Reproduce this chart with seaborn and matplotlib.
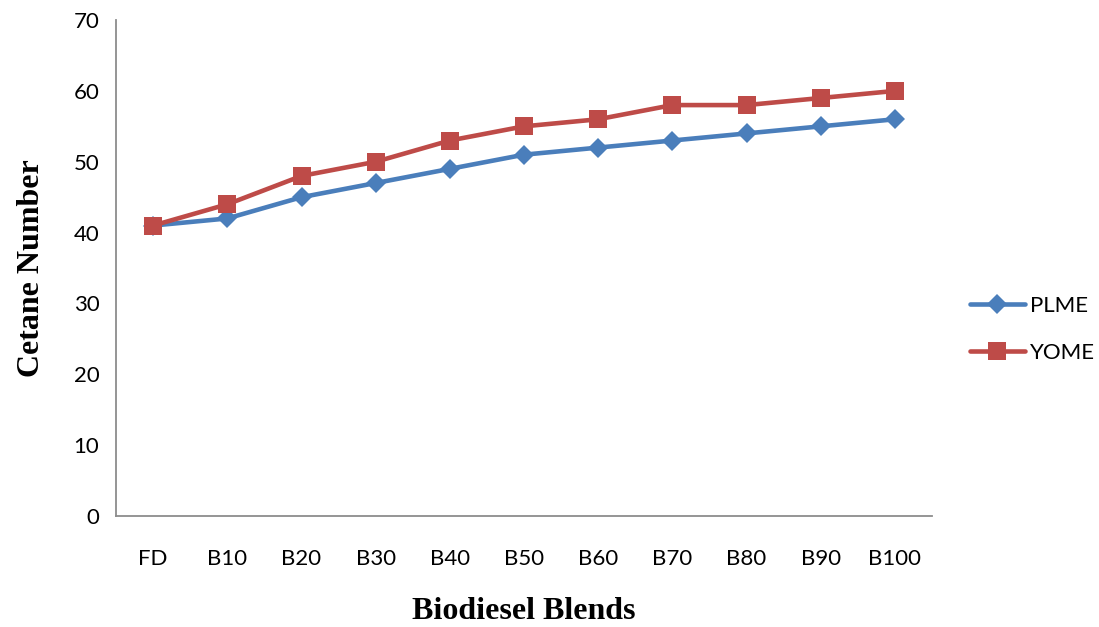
import matplotlib
matplotlib.use("Agg")
import matplotlib.pyplot as plt
import seaborn as sns
import pandas as pd

categories = ["FD", "B10", "B20", "B30", "B40", "B50", "B60", "B70", "B80", "B90", "B100"]
plme = [41, 42, 45, 47, 49, 51, 52, 53, 54, 55, 56]
yome = [41, 44, 48, 50, 53, 55, 56, 58, 58, 59, 60]

sns.set_theme(style="white")
plt.rcParams['font.family'] = ['Lato', 'DejaVu Sans']
plt.rcParams['text.color'] = 'black'
plt.rcParams['axes.labelcolor'] = 'black'
plt.rcParams['xtick.color'] = 'black'
plt.rcParams['ytick.color'] = 'black'

df = pd.DataFrame({
    "Blend": categories * 2,
    "Cetane": plme + yome,
    "Series": ["PLME"] * len(categories) + ["YOME"] * len(categories),
})

fig = plt.figure(figsize=(10.99, 6.27), dpi=100)
ax = fig.add_axes([0.1056, 0.177, 0.7425, 0.791])

colors = {"PLME": "#4A7EBB", "YOME": "#BE4B48"}
markers = {"PLME": "D", "YOME": "s"}
sizes = {"PLME": 10.5, "YOME": 13}
for name in ["PLME", "YOME"]:
    sub = df[df["Series"] == name]
    sns.lineplot(data=sub, x="Blend", y="Cetane", ax=ax, color=colors[name],
                 marker=markers[name], markersize=sizes[name], linewidth=3.3,
                 markeredgewidth=0, label=name, sort=False)

ax.set_xlim(-0.5, len(categories) - 0.5)
ax.set_ylim(0, 70)
ax.set_yticks(range(0, 71, 10))
ax.set_xticks(range(len(categories)))
ax.set_xticklabels(categories)
ax.set_xticks([i - 0.5 for i in range(len(categories) + 1)], minor=True)
ax.tick_params(axis="x", which="major", length=0, pad=24, labelsize=16, labelcolor="black")
ax.tick_params(axis="x", which="minor", length=6, width=1.3, color="#8C8C8C", direction="out")
ax.tick_params(axis="y", length=6, width=1.3, color="#8C8C8C", direction="out", labelsize=16, pad=6,
               labelcolor="black")
for s in ["top", "right"]:
    ax.spines[s].set_visible(False)
for s in ["left", "bottom"]:
    ax.spines[s].set_color("#8C8C8C")
    ax.spines[s].set_linewidth(1.3)

ax.set_xlabel("Biodiesel Blends", family="Liberation Serif", fontweight="bold", fontsize=23, labelpad=20,
              color="black")
ax.set_ylabel("Cetane Number", family="Liberation Serif", fontweight="bold", fontsize=23, labelpad=20,
              color="black")

handles, labels = ax.get_legend_handles_labels()
if ax.legend_:
    ax.legend_.remove()
fig.legend(handles, labels, loc="center left", bbox_to_anchor=(0.864, 0.475), frameon=False,
           fontsize=16, handlelength=2.5, handletextpad=0.2, labelspacing=1.2)

fig.savefig("out.png", dpi=100)
